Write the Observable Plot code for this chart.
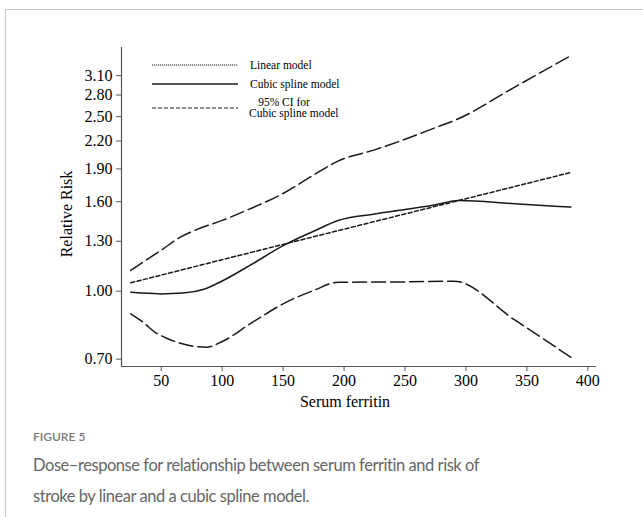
<!DOCTYPE html>
<html><head><meta charset="utf-8">
<script src="https://cdn.jsdelivr.net/npm/d3@7"></script>
<script src="https://cdn.jsdelivr.net/npm/@observablehq/plot@0.6"></script>
<style>
body{margin:0;background:#fff;width:643px;height:517px;overflow:hidden;position:relative}
#card{position:absolute;left:5px;top:9px;width:700px;height:600px;border-left:1.5px solid #c6c6c6;border-top:1.5px solid #c6c6c6}
#chart{position:absolute;left:0;top:0}
#legend{position:absolute;left:0;top:0}
#fig{position:absolute;left:33px;top:429px;font-family:Lato,sans-serif;font-size:12px;font-weight:600;color:#7a7a7a}
#cap{position:absolute;left:33px;top:450px;width:560px;font-family:Lato,sans-serif;font-weight:400;font-size:16.5px;letter-spacing:-0.45px;line-height:31px;color:#666}
</style></head>
<body>
<div id="card"></div>
<div id="chart"></div>
<svg id="legend" width="643" height="140"></svg>
<div id="fig">FIGURE 5</div>
<div id="cap">Dose–response for relationship between serum ferritin and risk of<br>stroke by linear and a cubic spline model.</div>
<script>
// Cubic spline model (solid)
const splineX = [25, 35, 50, 68, 85, 100, 125, 150, 175, 195, 225, 250, 275, 294, 340, 386];
const splineRR = [0.995, 0.99, 0.986, 0.99, 1.01, 1.055, 1.155, 1.27, 1.37, 1.45, 1.50, 1.535, 1.575, 1.61, 1.583, 1.555];
// Upper 95% CI
const upperX = [25, 35, 50, 65, 80, 100, 125, 150, 175, 195, 225, 250, 275, 292, 340, 385];
const upperRR = [1.115, 1.165, 1.24, 1.325, 1.385, 1.45, 1.55, 1.67, 1.84, 1.98, 2.10, 2.22, 2.36, 2.46, 2.92, 3.43];
// Lower 95% CI
const lowerX = [25, 35, 45, 55, 65, 75, 87, 100, 125, 150, 175, 195, 250, 290, 340, 386];
const lowerRR = [0.888, 0.85, 0.806, 0.78, 0.762, 0.75, 0.745, 0.768, 0.85, 0.936, 1.004, 1.048, 1.05, 1.054, 0.86, 0.707];
// Linear model
const linearX = [25, 100, 200, 300, 385];
const linearRR = [1.045, 1.18, 1.385, 1.625, 1.862];

const xTicks = [50, 100, 150, 200, 250, 300, 350, 400];
const yTicks = [0.70, 1.00, 1.30, 1.60, 1.90, 2.20, 2.50, 2.80, 3.10];
const xDomain = [17.4, 407.1];
const yDomain = [0.6735, 3.594];

const legendItems = [
  {lines: ["Linear model"], dash: "1.2,0.8", width: 1},
  {lines: ["Cubic spline model"], dash: null, width: 1.6},
  {lines: ["95% CI for", "Cubic spline model"], dash: "4,2", width: 1.2}
];

const toRows = (xs, ys) => xs.map((x, i) => ({x, y: ys[i]}));
const ink = "#1a1a1a";
const serif = "Liberation Serif, Times New Roman, serif";

const plot = Plot.plot({
  width: 643,
  height: 410,
  marginLeft: 121,
  marginRight: 47,
  marginTop: 47,
  marginBottom: 44,
  style: {fontFamily: serif, fontSize: "16px", color: "#000", background: "transparent"},
  x: {domain: xDomain, label: null},
  y: {type: "log", domain: yDomain, label: null},
  marks: [
    Plot.ruleX([xDomain[0]], {stroke: "#555", strokeWidth: 1.2}),
    Plot.ruleY([yDomain[0]], {stroke: "#555", strokeWidth: 1.2}),
    Plot.axisX({ticks: xTicks, tickSize: 5, tickPadding: 3, fontSize: 16, stroke: "#555", fill: "#000", label: null}),
    Plot.axisY({ticks: yTicks, tickSize: 5, tickPadding: 4, fontSize: 16, stroke: "#555", fill: "#000", tickFormat: d3.format(".2f"), label: null}),
    Plot.line(toRows(linearX, linearRR), {x: "x", y: "y", stroke: ink, strokeWidth: 1.5, strokeDasharray: "4,2.5"}),
    Plot.line(toRows(upperX, upperRR), {x: "x", y: "y", stroke: ink, strokeWidth: 1.5, strokeDasharray: "14,5", curve: "monotone-x"}),
    Plot.line(toRows(lowerX, lowerRR), {x: "x", y: "y", stroke: ink, strokeWidth: 1.5, strokeDasharray: "14,5", curve: "monotone-x"}),
    Plot.line(toRows(splineX, splineRR), {x: "x", y: "y", stroke: ink, strokeWidth: 1.5, curve: "monotone-x"}),
    Plot.text(["Relative Risk"], {frameAnchor: "left", textAnchor: "middle", lineAnchor: "middle", rotate: -90, dx: -55, dy: 7, fontSize: 16, fill: "#000"}),
    Plot.text(["Serum ferritin"], {frameAnchor: "bottom", textAnchor: "middle", lineAnchor: "middle", dx: -14, dy: 35, fontSize: 16, fill: "#000"})
  ]
});
document.getElementById("chart").appendChild(plot);

// legend overlay
const lg = d3.select("#legend");
const rowsY = [65, 84, 108];
legendItems.forEach((d, i) => {
  const y = rowsY[i];
  const l = lg.append("line").attr("x1", 152).attr("x2", 238).attr("y1", y).attr("y2", y)
    .attr("stroke", ink).attr("stroke-width", d.width);
  if (d.dash) l.attr("stroke-dasharray", d.dash);
  if (d.lines.length === 1) {
    lg.append("text").attr("x", 250).attr("y", y).attr("dy", "0.35em")
      .attr("font-family", serif).attr("font-size", 11.5).text(d.lines[0]);
  } else {
    lg.append("text").attr("x", 284).attr("y", y - 6.5).attr("dy", "0.35em").attr("text-anchor", "middle")
      .attr("font-family", serif).attr("font-size", 11.5).text(d.lines[0]);
    lg.append("text").attr("x", 249).attr("y", y + 4.5).attr("dy", "0.35em")
      .attr("font-family", serif).attr("font-size", 11.5).text(d.lines[1]);
  }
});
</script>
</body></html>
